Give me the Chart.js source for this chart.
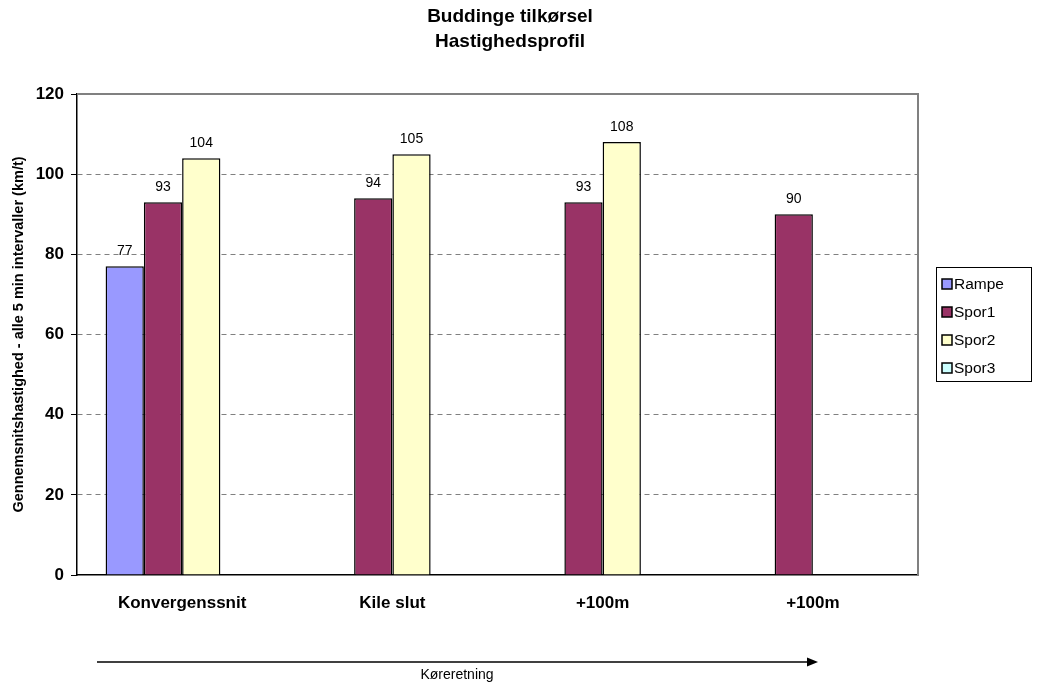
<!DOCTYPE html>
<html>
<head>
<meta charset="utf-8">
<title>Buddinge tilkørsel - Hastighedsprofil</title>
<script src="https://cdn.jsdelivr.net/npm/chart.js@4/dist/chart.umd.min.js"></script>
<style>
  html, body { margin: 0; padding: 0; background: #fff; }
  #wrap { width: 1043px; height: 686px; position: relative; }
</style>
</head>
<body>
<div id="wrap"><canvas id="c" width="1043" height="686"></canvas></div>
<script>
// Measuring points along the road
const categories = ['Konvergenssnit', 'Kile slut', '+100m', '+100m'];

// Average speed per lane (km/t); null = no measurement in that lane
const rampe = [77, null, null, null];
const spor1 = [93, 94, 93, 90];
const spor2 = [104, 105, 108, null];
const spor3 = [null, null, null, null];

const seriesNames = ['Rampe', 'Spor1', 'Spor2', 'Spor3'];
const seriesColors = ['#9999FF', '#993366', '#FFFFCC', '#CCFFFF'];

const titleLines = ['Buddinge tilkørsel', 'Hastighedsprofil'];
const yAxisTitle = 'Gennemsnitshastighed - alle 5 min intervaller (km/t)';
const directionText = 'Køreretning';

const yMin = 0, yMax = 120, yStep = 20;

const FONT = '"Liberation Sans", Arial, Helvetica, sans-serif';

// Value labels above each bar
const valueLabels = {
  id: 'valueLabels',
  afterDatasetsDraw(chart) {
    const ctx = chart.ctx;
    ctx.save();
    ctx.font = '14px ' + FONT;
    ctx.fillStyle = '#000';
    ctx.textAlign = 'center';
    ctx.textBaseline = 'middle';
    chart.data.datasets.forEach((ds, i) => {
      const meta = chart.getDatasetMeta(i);
      meta.data.forEach((bar, j) => {
        const v = ds.data[j];
        if (v === null || v === undefined) return;
        ctx.fillText(String(v), bar.x, bar.y - 15);
      });
    });
    ctx.restore();
  }
};

// Plot frame, titles, legend box and driving-direction arrow
const decorations = {
  id: 'decorations',
  beforeDatasetsDraw(chart) {
    const { ctx, chartArea: a } = chart;
    ctx.save();
    ctx.strokeStyle = '#808080';
    ctx.lineWidth = 2;
    ctx.beginPath();
    ctx.moveTo(a.left, a.top);
    ctx.lineTo(a.right, a.top);
    ctx.lineTo(a.right, a.bottom);
    ctx.stroke();
    ctx.restore();
  },
  afterDraw(chart) {
    const { ctx, chartArea: a } = chart;
    ctx.save();

    // Chart title
    ctx.fillStyle = '#000';
    ctx.textAlign = 'center';
    ctx.textBaseline = 'middle';
    ctx.font = 'bold 19px ' + FONT;
    ctx.fillText(titleLines[0], 510, 17);
    ctx.fillText(titleLines[1], 510, 42);

    // Y axis title (rotated)
    ctx.save();
    ctx.translate(19, (a.top + a.bottom) / 2);
    ctx.rotate(-Math.PI / 2);
    ctx.font = 'bold 14.5px ' + FONT;
    ctx.fillText(yAxisTitle, 0, 0);
    ctx.restore();

    // Legend
    const lx = 936, ly = 267, lw = 95, lh = 114;
    ctx.strokeStyle = '#000';
    ctx.lineWidth = 1;
    ctx.strokeRect(lx + 0.5, ly + 0.5, lw, lh);
    ctx.font = '15.5px ' + FONT;
    ctx.textAlign = 'left';
    chart.data.datasets.forEach((ds, i) => {
      const cy = ly + 17 + i * 28;
      ctx.fillStyle = ds.backgroundColor;
      ctx.fillRect(lx + 6, cy - 5, 10, 10);
      ctx.lineWidth = 1.5;
      ctx.strokeRect(lx + 6, cy - 5, 10, 10);
      ctx.fillStyle = '#000';
      ctx.fillText(ds.label, lx + 18, cy + 1);
    });

    // Driving direction arrow
    const ay = 662;
    ctx.strokeStyle = '#000';
    ctx.lineWidth = 1.5;
    ctx.beginPath();
    ctx.moveTo(97, ay);
    ctx.lineTo(810, ay);
    ctx.stroke();
    ctx.fillStyle = '#000';
    ctx.beginPath();
    ctx.moveTo(818, ay);
    ctx.lineTo(807, ay - 4.5);
    ctx.lineTo(807, ay + 4.5);
    ctx.closePath();
    ctx.fill();
    ctx.font = '14px ' + FONT;
    ctx.textAlign = 'center';
    ctx.fillText(directionText, 457, 675);

    ctx.restore();
  }
};

const seriesData = [rampe, spor1, spor2, spor3];

new Chart(document.getElementById('c'), {
  type: 'bar',
  data: {
    labels: categories,
    datasets: seriesNames.map((name, i) => ({
      label: name,
      data: seriesData[i],
      backgroundColor: seriesColors[i],
      borderColor: '#000',
      borderWidth: 1.5,
      borderSkipped: 'bottom',
      categoryPercentage: 0.728,
      barPercentage: 1.0
    }))
  },
  options: {
    responsive: false,
    animation: false,
    devicePixelRatio: 1,
    layout: { padding: { top: 94, right: 125, bottom: 0, left: 0 } },
    plugins: {
      legend: { display: false },
      title: { display: false },
      tooltip: { enabled: false }
    },
    scales: {
      x: {
        grid: { display: false, drawTicks: false, tickLength: 0 },
        border: { display: true, color: '#000', width: 1.5 },
        ticks: {
          color: '#000',
          font: { family: FONT, size: 17, weight: 'bold' },
          padding: 18,
          maxRotation: 0,
          autoSkip: false
        },
        afterFit(scale) { scale.height = 111; }
      },
      y: {
        min: yMin,
        max: yMax,
        grid: {
          color: (c) => (c.tick && (c.tick.value === yMin || c.tick.value === yMax)) ? 'rgba(0,0,0,0)' : '#808080',
          lineWidth: 1,
          tickColor: '#000',
          tickLength: 6,
          tickBorderDash: []
        },
        border: { display: true, color: '#000', width: 1.5, dash: [5, 4] },
        ticks: {
          stepSize: yStep,
          color: '#000',
          padding: 7,
          font: { family: FONT, size: 17, weight: 'bold' }
        },
        afterFit(scale) { scale.width = 77; }
      }
    }
  },
  plugins: [decorations, valueLabels]
});
</script>
</body>
</html>
